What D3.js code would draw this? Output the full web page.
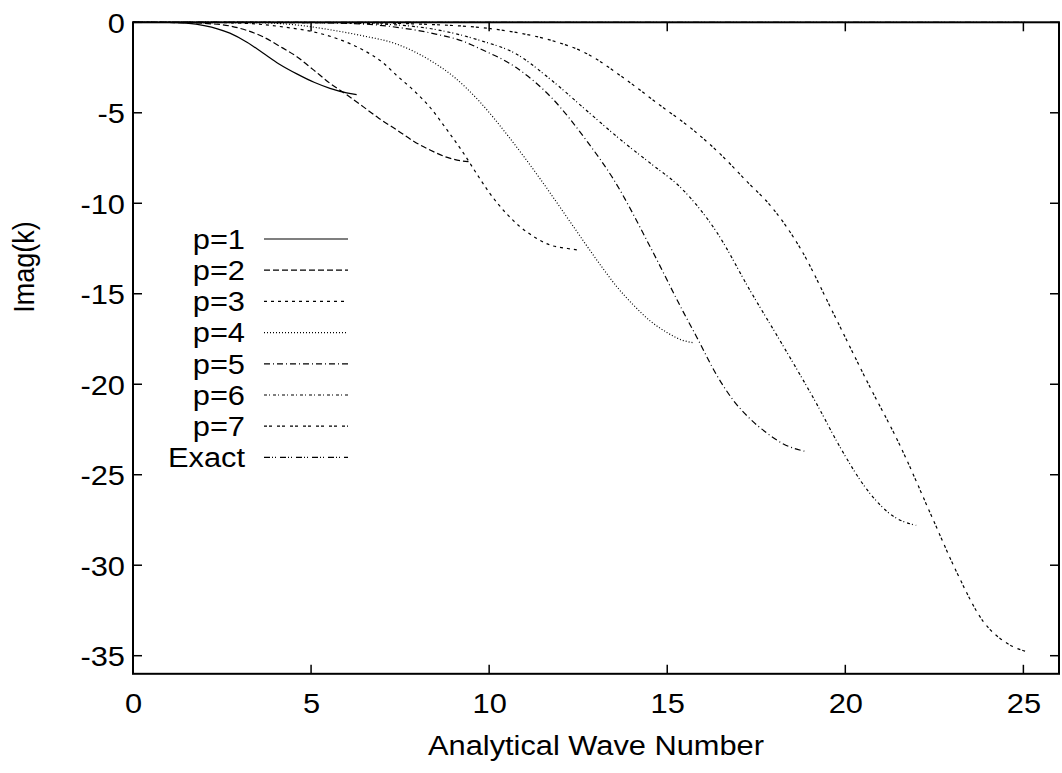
<!DOCTYPE html>
<html><head><meta charset="utf-8">
<script src="https://cdn.jsdelivr.net/npm/d3@7"></script>
<style>body{margin:0;background:#fff}svg{display:block}text{font-family:"Liberation Sans",Arial,Helvetica,sans-serif;fill:#000}</style>
</head><body>
<svg id="c" width="1062" height="773"></svg>
<script>
const xTicks=[0,5,10,15,20,25];
const yTicks=[0,-5,-10,-15,-20,-25,-30,-35];
const seriesNames=["p=1","p=2","p=3","p=4","p=5","p=6","p=7","Exact"];
const p1=[[0,0],[1,-0.01],[1.5,-0.05],[2,-0.18],[2.72,-0.6],[3.2,-1.1],[3.65,-1.7],[4.1,-2.3],[4.6,-2.85],[5.1,-3.33],[5.53,-3.65],[6.0,-3.9],[6.28,-4.0]];
const p2=[[0,0],[1.5,-0.02],[2,-0.06],[2.72,-0.2],[3.2,-0.45],[3.65,-0.8],[4.1,-1.3],[4.6,-1.9],[5.05,-2.6],[5.53,-3.37],[6.0,-4.0],[6.46,-4.66],[6.9,-5.3],[7.41,-5.95],[7.9,-6.6],[8.34,-7.06],[8.8,-7.45],[9.2,-7.65],[9.42,-7.7]];
const p3=[[0,0],[2.5,-0.02],[3.5,-0.1],[4.3,-0.28],[5.05,-0.52],[5.8,-0.95],[6.46,-1.53],[7.0,-2.2],[7.41,-2.95],[7.9,-3.8],[8.34,-4.7],[8.8,-5.9],[9.27,-7.2],[9.66,-8.4],[10.0,-9.4],[10.5,-10.6],[10.87,-11.3],[11.3,-11.9],[11.7,-12.3],[12.2,-12.5],[12.57,-12.6]];
const p4=[[0,0],[3.5,-0.02],[4.6,-0.15],[5.5,-0.4],[6.46,-0.75],[7.4,-1.2],[8.34,-2.1],[9.0,-3.0],[9.74,-4.4],[10.5,-6.2],[11.45,-8.7],[12.3,-11.1],[13.12,-13.4],[13.58,-14.6],[14.04,-15.6],[14.52,-16.5],[15.0,-17.15],[15.4,-17.55],[15.71,-17.7]];
const p5=[[0,0],[5,-0.02],[6.5,-0.1],[7.5,-0.3],[8.5,-0.65],[9.27,-1.05],[9.74,-1.46],[10.75,-2.49],[11.75,-4.16],[12.75,-6.58],[13.5,-8.7],[14.52,-12.4],[15.45,-16.0],[15.83,-17.4],[16.39,-19.5],[16.86,-20.9],[17.32,-21.9],[17.8,-22.7],[18.26,-23.3],[18.85,-23.7]];
const p6=[[0,0],[5,-0.01],[7,-0.1],[8.5,-0.4],[9.74,-1.0],[10.75,-1.74],[11.75,-3.2],[12.75,-4.9],[13.76,-6.6],[14.6,-7.9],[15.36,-9.1],[16.39,-11.6],[17.32,-14.8],[18.26,-17.9],[19.2,-21.1],[19.86,-23.5],[20.6,-25.8],[21.35,-27.3],[21.99,-27.8]];
const p7=[[0,0],[6,-0.02],[8.34,-0.12],[10.04,-0.35],[11,-0.65],[11.75,-1.0],[12.75,-1.74],[13.76,-3.05],[14.76,-4.53],[15.76,-6.0],[16.5,-7.3],[17.2,-8.72],[17.97,-10.3],[18.74,-12.5],[19.67,-16.1],[20.6,-19.8],[21.54,-23.4],[22.47,-27.5],[23.13,-30.4],[23.87,-33.1],[24.53,-34.3],[25.13,-34.8]];
const exact=[[0,0],[25.13,0]];
const seriesData=[p1,p2,p3,p4,p5,p6,p7,exact];
const dashes=[null,"6,3","3,4","1,2","6,3,1,3","3,2,1,3","3,2,3,5","6,2,1,2,1,4"];

const svg=d3.select("#c");
const L=133,R=1059,T=22.3,B=673.8;
const x=d3.scaleLinear().domain([0,26]).range([L,R]);
const y=d3.scaleLinear().domain([-36,0]).range([B,T]);
const fs=28, sx=1.1;

// curves
const line=d3.line().x(d=>x(d[0])).y(d=>y(d[1])).curve(d3.curveMonotoneX);
const g=svg.append("g");
seriesData.forEach((s,i)=>{
  g.append("path").attr("d",line(s)).attr("fill","none").attr("stroke","#000")
   .attr("stroke-width",1.2).attr("stroke-dasharray",dashes[i]);
});

// axes
const tl=9;
const axB=d3.axisBottom(x).tickValues(xTicks).tickSize(0).tickPadding(0).tickFormat(d=>String(d));
const gx=svg.append("g").attr("transform",`translate(0,${B})`).call(axB);
gx.select(".domain").remove();
gx.selectAll("text").attr("font-size",fs).attr("font-family",null).attr("dy",null).attr("y",39).attr("transform",`scale(${sx},1)`).attr("fill","#000");
const axL=d3.axisLeft(y).tickValues(yTicks).tickSize(0).tickPadding(0).tickFormat(d=>String(d));
const gy=svg.append("g").attr("transform",`translate(${L},0)`).call(axL);
gy.select(".domain").remove();
gy.selectAll("text").attr("font-size",fs).attr("font-family",null).attr("x",-8/sx).attr("dy","0.35em").attr("transform",`scale(${sx},1)`).attr("fill","#000");
svg.selectAll(".tick text").style("font-family",'"Liberation Sans",Arial,sans-serif');

// tick marks (mirrored)
xTicks.forEach(v=>{
  svg.append("line").attr("x1",x(v)).attr("x2",x(v)).attr("y1",B).attr("y2",B-tl).attr("stroke","#000").attr("stroke-width",1.5);
  svg.append("line").attr("x1",x(v)).attr("x2",x(v)).attr("y1",T).attr("y2",T+tl).attr("stroke","#000").attr("stroke-width",1.5);
});
yTicks.forEach(v=>{
  svg.append("line").attr("x1",L).attr("x2",L+tl).attr("y1",y(v)).attr("y2",y(v)).attr("stroke","#000").attr("stroke-width",1.5);
  svg.append("line").attr("x1",R).attr("x2",R-tl).attr("y1",y(v)).attr("y2",y(v)).attr("stroke","#000").attr("stroke-width",1.5);
});
svg.append("rect").attr("x",L).attr("y",T).attr("width",R-L).attr("height",B-T).attr("fill","none").attr("stroke","#000").attr("stroke-width",2);

// titles
svg.append("text").attr("transform",`translate(${(L+R)/2},755) scale(${sx},1)`).attr("text-anchor","middle").attr("font-size",fs).text("Analytical Wave Number");
svg.append("text").attr("transform",`translate(34,267) rotate(-90) scale(1,${sx})`).attr("text-anchor","middle").attr("font-size",27).text("Imag(k)");

// legend
const lg=svg.append("g");
seriesNames.forEach((n,i)=>{
  const yy=239+i*31.2;
  lg.append("text").attr("transform",`translate(245,${yy}) scale(${sx},1)`).attr("dy","0.35em").attr("text-anchor","end").attr("font-size",fs).text(n);
  lg.append("line").attr("x1",264).attr("x2",348).attr("y1",yy).attr("y2",yy).attr("stroke","#000").attr("stroke-width",1.2).attr("stroke-dasharray",dashes[i]);
});
</script>
</body></html>
